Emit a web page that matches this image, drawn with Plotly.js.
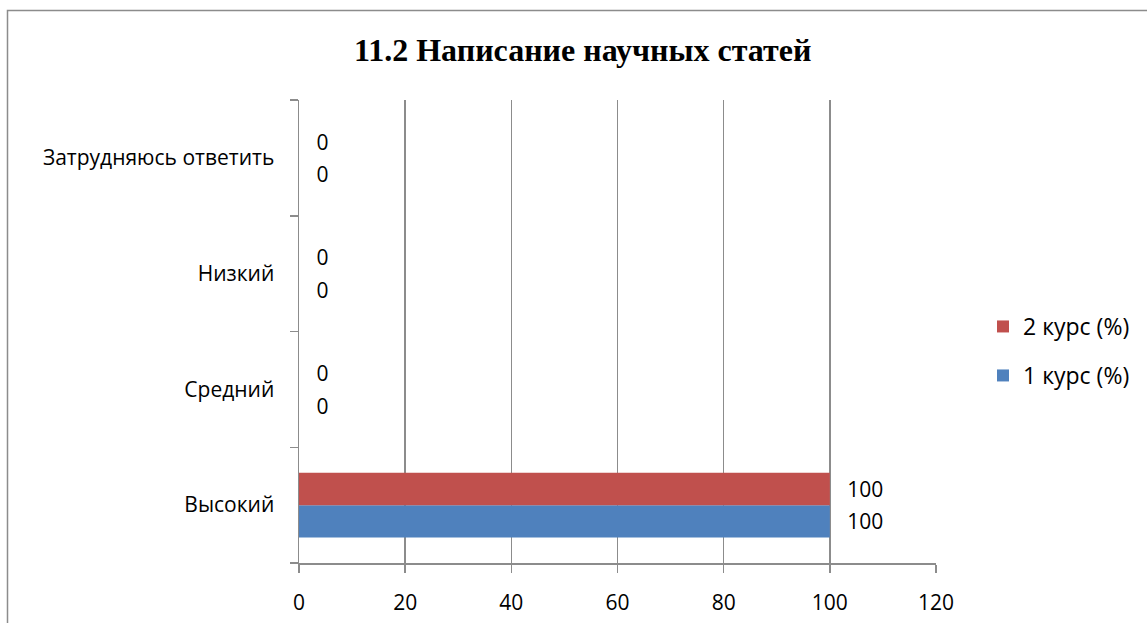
<!DOCTYPE html>
<html>
<head>
<meta charset="utf-8">
<script src="https://cdn.plot.ly/plotly-3.0.1.min.js"></script>
<style>
html,body{margin:0;padding:0;background:#fff;}
#chart{width:1147px;height:623px;}
</style>
</head>
<body>
<div id="chart"></div>
<script>
const categories = ['Высокий', 'Средний', 'Низкий', 'Затрудняюсь ответить'];
const course1 = [100, 0, 0, 0];
const course2 = [100, 0, 0, 0];
const seriesNames = ['1 курс (%)', '2 курс (%)'];
const xTicks = [0, 20, 40, 60, 80, 100, 120];

const W = 1147, H = 623;
const M = {l: 299, r: 211, t: 100, b: 60};
const pw = W - M.l - M.r, ph = H - M.t - M.b;
const px = v => (v - M.l) / pw;
const py = v => (H - M.b - v) / ph;

const labelFont = {family: 'Open Sans, Noto Sans, sans-serif', size: 21, color: '#000'};
const legendFont = {family: 'Open Sans, Noto Sans, sans-serif', size: 23, color: '#000'};
const pad = '\u00a0\u00a0\u2009';

const traces = [
  {
    type: 'bar', orientation: 'h', name: seriesNames[0],
    y: categories, x: course1,
    marker: {color: '#4F81BD'},
    text: course1.map(v => pad + v), textposition: 'outside',
    textfont: labelFont, cliponaxis: false, legend: 'legend2',
    hoverinfo: 'none'
  },
  {
    type: 'bar', orientation: 'h', name: seriesNames[1],
    y: categories, x: course2,
    marker: {color: '#C0504D'},
    text: course2.map(v => pad + v), textposition: 'outside',
    textfont: labelFont, cliponaxis: false, legend: 'legend',
    hoverinfo: 'none'
  }
];

const layout = {
  width: W, height: H,
  margin: M,
  paper_bgcolor: '#fff', plot_bgcolor: '#fff',
  barmode: 'group', bargap: 0.44, bargroupgap: 0,
  title: {
    text: '<b>11.2 Написание научных статей</b>',
    font: {family: 'Liberation Serif, Times New Roman, serif', size: 32, color: '#000'},
    x: 0.508, xanchor: 'center', y: 1 - 50 / H, yanchor: 'middle'
  },
  xaxis: {
    range: [0, 120], tickvals: xTicks, ticktext: xTicks.map(String),
    showgrid: true, gridcolor: '#8c8c8c', gridwidth: 1.5,
    showline: true, linecolor: '#8c8c8c', linewidth: 1.5,
    ticks: 'outside', ticklen: 8, tickcolor: '#8c8c8c', tickwidth: 1.5,
    tickfont: labelFont, ticklabelstandoff: 12, zeroline: false, fixedrange: true
  },
  yaxis: {
    type: 'category', categoryorder: 'array', categoryarray: categories,
    showgrid: false, showline: true, linecolor: '#8c8c8c', linewidth: 1.5,
    ticks: 'outside', tickson: 'boundaries', ticklen: 8, tickcolor: '#8c8c8c', tickwidth: 1.5,
    tickfont: labelFont, ticklabelstandoff: 19, zeroline: false, fixedrange: true
  },
  legend: {
    x: px(983), xanchor: 'left', y: py(305), yanchor: 'top',
    font: legendFont, bgcolor: 'rgba(0,0,0,0)', itemclick: false
  },
  legend2: {
    x: px(983), xanchor: 'left', y: py(354), yanchor: 'top',
    font: legendFont, bgcolor: 'rgba(0,0,0,0)', itemclick: false
  },
  showlegend: true,
  shapes: [{
    type: 'rect', xref: 'paper', yref: 'paper',
    x0: px(7.5), x1: px(1160), y0: py(10.5), y1: py(640),
    line: {color: '#8c8c8c', width: 1.5}, fillcolor: 'rgba(0,0,0,0)', layer: 'below'
  }]
};

Plotly.newPlot('chart', traces, layout, {displayModeBar: false, staticPlot: true});
</script>
</body>
</html>
